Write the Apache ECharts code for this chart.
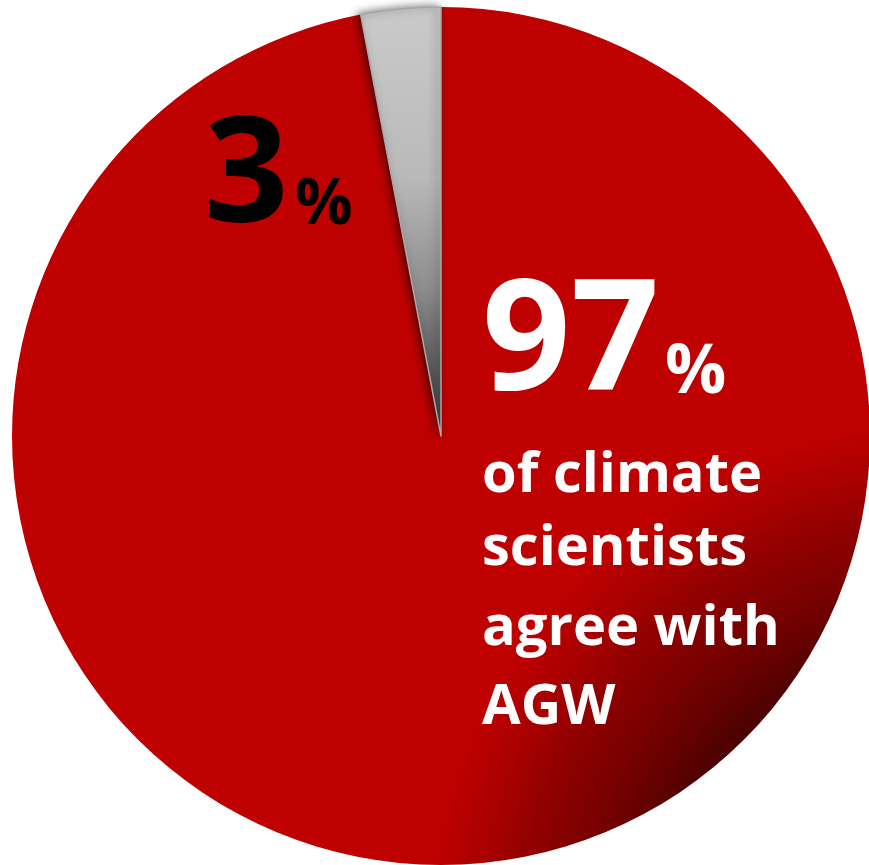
<!DOCTYPE html>
<html>
<head>
<meta charset="utf-8">
<script src="https://cdn.jsdelivr.net/npm/echarts@6/dist/echarts.min.js"></script>
<style>
html,body{margin:0;padding:0;background:#fff;}
#chart{width:869px;height:865px;}
</style>
</head>
<body>
<div id="chart"></div>
<script>
// Data
var categories = ['agree with AGW', 'do not agree'];
var values = [97, 3];
var bigLabels = ['97', '3'];
var captionLines = ['of climate', 'scientists', 'agree with', 'AGW'];

var chart = echarts.init(document.getElementById('chart'), null, {renderer: 'canvas'});

var redFill = new echarts.graphic.RadialGradient(1.1, 1.1, 0.62, [
  {offset: 0, color: '#0a0000'},
  {offset: 0.5, color: '#350000'},
  {offset: 0.63, color: '#600000'},
  {offset: 0.72, color: '#7a0000'},
  {offset: 0.83, color: '#930000'},
  {offset: 0.9, color: '#a80000'},
  {offset: 1, color: '#bf0000'}
]);
var grayFill = new echarts.graphic.LinearGradient(0, 0, 0, 1, [
  {offset: 0, color: '#cacaca'},
  {offset: 0.4, color: '#b9b9b9'},
  {offset: 0.65, color: '#8e8e8e'},
  {offset: 0.82, color: '#606060'},
  {offset: 1, color: '#3a3a3a'}
]);

var font = '"Open Sans", "DejaVu Sans", sans-serif';
var captionY = [476, 549, 629, 708];
var graphics = [];
graphics.push({type: 'text', z: 100, style: {text: bigLabels[1], x: 204, y: 180, font: 'bold 148px ' + font, fill: '#000', textVerticalAlign: 'middle'}});
graphics.push({type: 'text', z: 100, style: {text: '%', x: 295, y: 206, font: 'bold 64px ' + font, fill: '#000', textVerticalAlign: 'middle'}});
graphics.push({type: 'text', z: 100, style: {text: bigLabels[0], x: 482, y: 346, font: 'bold 155px ' + font, fill: '#fff', textVerticalAlign: 'middle'}});
graphics.push({type: 'text', z: 100, style: {text: '%', x: 665, y: 374, font: 'bold 68px ' + font, fill: '#fff', textVerticalAlign: 'middle'}});
captionLines.forEach(function (t, i) {
  graphics.push({type: 'text', z: 100, style: {text: t, x: 482, y: captionY[i], font: 'bold 56px ' + font, fill: '#fff', textVerticalAlign: 'middle'}});
});

chart.setOption({
  animation: false,
  backgroundColor: '#fff',
  series: [{
    type: 'pie',
    center: [441, 436],
    radius: [0, 429],
    startAngle: 90,
    clockwise: true,
    label: {show: false},
    labelLine: {show: false},
    emphasis: {disabled: true},
    data: [
      {name: categories[0], value: values[0], itemStyle: {color: redFill, borderWidth: 0}},
      {name: categories[1], value: values[1], z: 3, itemStyle: {color: grayFill, borderColor: '#a8a8a8', borderWidth: 1.5, shadowColor: 'rgba(0,0,0,0.55)', shadowBlur: 8, shadowOffsetX: -3}}
    ]
  }],
  graphic: graphics
});
</script>
</body>
</html>
